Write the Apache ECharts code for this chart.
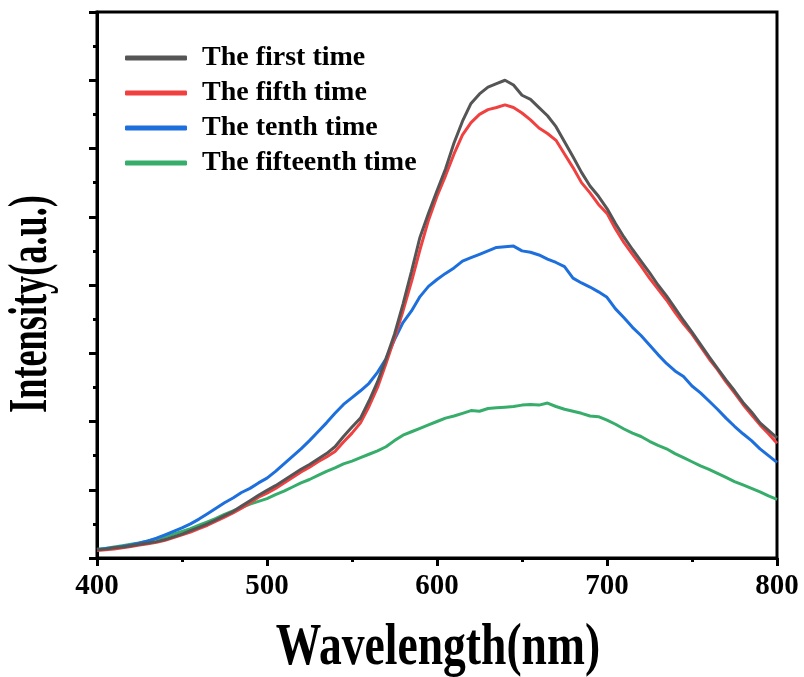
<!DOCTYPE html>
<html>
<head>
<meta charset="utf-8">
<script src="https://cdn.jsdelivr.net/npm/echarts@6/dist/echarts.min.js"></script>
<style>html,body{margin:0;padding:0;background:#fff;}#c{width:804px;height:677px;}</style>
</head>
<body>
<div id="c"></div>
<script>
const wavelengths = [400,405,410,415,420,425,430,435,440,445,450,455,460,465,470,475,480,485,490,495,500,505,510,515,520,525,530,535,540,545,550,555,560,565,570,575,580,585,590,595,600,605,610,615,620,625,630,635,640,645,650,655,660,665,670,675,680,685,690,695,700,705,710,715,720,725,730,735,740,745,750,755,760,765,770,775,780,785,790,795,800];
const seriesNames = ["The first time","The fifth time","The tenth time","The fifteenth time"];
const firstTime = [0.12,0.13,0.15,0.16,0.18,0.20,0.22,0.24,0.27,0.31,0.35,0.40,0.45,0.50,0.56,0.62,0.68,0.76,0.84,0.92,0.99,1.06,1.14,1.22,1.30,1.37,1.45,1.53,1.63,1.78,1.92,2.05,2.30,2.58,2.92,3.28,3.72,4.20,4.70,5.05,5.38,5.70,6.08,6.40,6.66,6.80,6.90,6.95,7.00,6.93,6.78,6.72,6.60,6.48,6.32,6.10,5.88,5.65,5.45,5.30,5.12,4.90,4.70,4.52,4.35,4.18,4.00,3.84,3.66,3.48,3.31,3.13,2.95,2.78,2.61,2.45,2.28,2.14,1.98,1.87,1.76];
const fifthTime = [0.11,0.12,0.13,0.15,0.17,0.19,0.21,0.23,0.26,0.30,0.34,0.38,0.43,0.48,0.54,0.60,0.66,0.73,0.81,0.89,0.95,1.02,1.10,1.18,1.26,1.33,1.41,1.48,1.56,1.70,1.83,1.98,2.22,2.50,2.85,3.22,3.62,4.05,4.52,4.95,5.30,5.60,5.92,6.20,6.38,6.50,6.57,6.60,6.64,6.60,6.52,6.42,6.30,6.22,6.12,5.92,5.72,5.50,5.35,5.18,5.05,4.82,4.62,4.45,4.28,4.10,3.94,3.78,3.60,3.43,3.28,3.10,2.92,2.76,2.58,2.42,2.25,2.10,1.95,1.82,1.68];
const tenthTime = [0.12,0.14,0.15,0.17,0.19,0.22,0.25,0.29,0.34,0.39,0.44,0.50,0.57,0.65,0.73,0.81,0.88,0.96,1.02,1.10,1.17,1.27,1.38,1.49,1.60,1.72,1.85,1.98,2.12,2.25,2.35,2.45,2.56,2.72,2.92,3.20,3.45,3.62,3.83,3.98,4.08,4.17,4.25,4.35,4.40,4.45,4.50,4.55,4.56,4.57,4.50,4.48,4.44,4.38,4.33,4.27,4.10,4.03,3.97,3.90,3.82,3.65,3.52,3.38,3.26,3.12,2.98,2.85,2.74,2.66,2.52,2.42,2.30,2.18,2.05,1.93,1.82,1.72,1.60,1.50,1.40];
const fifteenthTime = [0.13,0.14,0.16,0.18,0.20,0.22,0.25,0.28,0.31,0.35,0.39,0.43,0.48,0.53,0.58,0.64,0.69,0.74,0.79,0.83,0.87,0.93,0.98,1.04,1.10,1.15,1.21,1.27,1.32,1.38,1.42,1.47,1.52,1.57,1.63,1.72,1.80,1.85,1.90,1.95,2.00,2.05,2.08,2.12,2.16,2.15,2.19,2.20,2.21,2.22,2.24,2.25,2.24,2.27,2.22,2.18,2.15,2.12,2.08,2.07,2.02,1.96,1.89,1.83,1.78,1.71,1.65,1.60,1.53,1.47,1.41,1.35,1.30,1.24,1.18,1.12,1.07,1.02,0.97,0.91,0.86];
const xTicks = [400,500,600,700,800];
const xAxisTitle = "Wavelength(nm)";
const yAxisTitle = "Intensity(a.u.)";

const colors = ["#555555","#f04040","#1c6fdd","#36ad6a"];
const allData = [firstTime, fifthTime, tenthTime, fifteenthTime];
const font = "'Liberation Serif','Times New Roman',serif";

const chart = echarts.init(document.getElementById('c'));
chart.setOption({
  animation:false,
  backgroundColor:'#fff',
  grid:{left:97,right:27,top:12,bottom:119,show:true,borderColor:'#000',borderWidth:3,backgroundColor:'transparent'},
  legend:{
    orient:'vertical', left:120, top:39, itemWidth:62, itemHeight:5, itemGap:7, icon:'roundRect',
    textStyle:{fontFamily:font,fontWeight:'bold',fontSize:28,color:'#000',padding:[0,0,0,10]},
    data:seriesNames
  },
  graphic:[
    {type:'text', x:438, y:648, scaleX:0.76, silent:true,
     style:{text:xAxisTitle, fontFamily:font, fontWeight:'bold', fontSize:60, fill:'#000', align:'center', verticalAlign:'middle'}},
    {type:'text', x:32, y:304, rotation:Math.PI/2, scaleX:0.66, silent:true,
     style:{text:yAxisTitle, fontFamily:font, fontWeight:'bold', fontSize:55, fill:'#000', align:'center', verticalAlign:'middle'}}
  ],
  xAxis:{
    type:'value', min:xTicks[0], max:xTicks[xTicks.length-1], interval:100,
    axisLine:{lineStyle:{color:'#000',width:3}},
    axisTick:{inside:false,length:8,lineStyle:{width:3,color:'#000'}},
    minorTick:{show:true,splitNumber:2,length:4,lineStyle:{width:3,color:'#000'}},
    axisLabel:{fontFamily:font,fontWeight:'bold',fontSize:29,color:'#000',margin:14},
    splitLine:{show:false}
  },
  yAxis:{
    type:'value', min:0, max:8, interval:1,
    axisLine:{show:true,lineStyle:{color:'#000',width:3}},
    axisTick:{show:true,inside:false,length:8,lineStyle:{width:3,color:'#000'}},
    minorTick:{show:true,splitNumber:2,length:4,lineStyle:{width:3,color:'#000'}},
    axisLabel:{show:false},
    splitLine:{show:false}
  },
  series: seriesNames.map((n,i)=>({
    name:n, type:'line', symbol:'none', smooth:false,
    data: wavelengths.map((w,j)=>[w, allData[i][j]]),
    lineStyle:{color:colors[i],width:3}, itemStyle:{color:colors[i]}, z:10-i
  }))
});
</script>
</body>
</html>
